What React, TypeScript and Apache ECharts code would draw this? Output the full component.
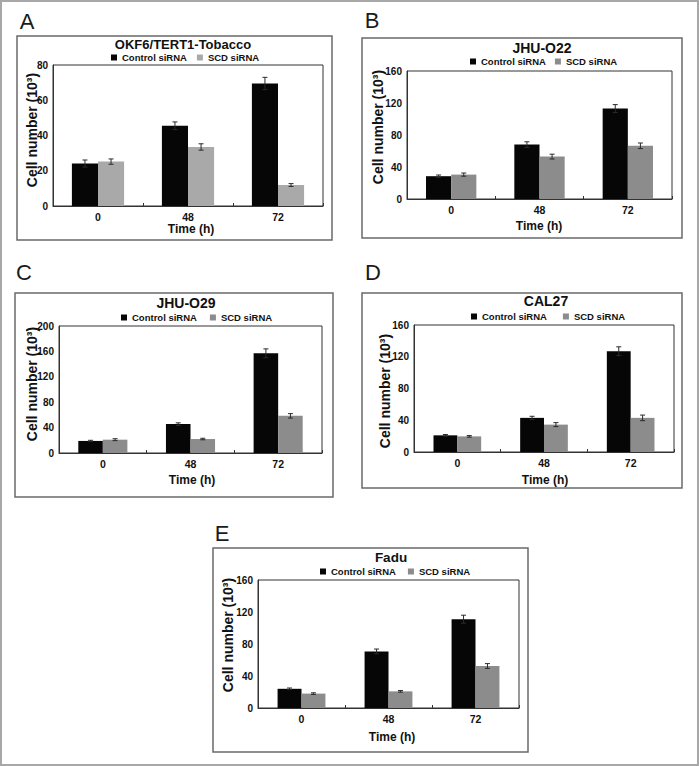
import React, { useEffect, useRef } from "react";
import * as echarts from "echarts";

// ---- data ----
const timeLabels = ["0", "48", "72"];
const seriesNames = ["Control siRNA", "SCD siRNA"];
const panelLetters = ["A", "B", "C", "D", "E"];
const panelTitles = ["OKF6/TERT1-Tobacco", "JHU-O22", "JHU-O29", "CAL27", "Fadu"];
const yMax = [80, 160, 200, 160, 160];
const yInterval = [20, 40, 40, 40, 40];

const controlA = [24.1, 45.5, 69.5];
const controlAErr = [2, 2.2, 3.5];
const scdA = [25.2, 33.5, 11.9];
const scdAErr = [1.5, 1.8, 0.8];

const controlB = [28.5, 68, 113];
const controlBErr = [1.5, 3.5, 5];
const scdB = [30.5, 53, 66.5];
const scdBErr = [2, 3, 3.5];

const controlC = [19, 45.5, 157];
const controlCErr = [1, 2, 7];
const scdC = [21, 22, 58.5];
const scdCErr = [1.5, 1.2, 3.5];

const controlD = [21, 43, 127];
const controlDErr = [1, 2, 5.5];
const scdD = [19.7, 34.5, 43];
const scdDErr = [1, 2.5, 3.5];

const controlE = [24, 70.7, 111];
const controlEErr = [1, 3, 5];
const scdE = [18, 20.8, 52.5];
const scdEErr = [1, 1, 3];

const controlValues = [controlA, controlB, controlC, controlD, controlE];
const controlErrors = [controlAErr, controlBErr, controlCErr, controlDErr, controlEErr];
const scdValues = [scdA, scdB, scdC, scdD, scdE];
const scdErrors = [scdAErr, scdBErr, scdCErr, scdDErr, scdEErr];

// ---- layout (positions / styles) ----
const layout = [
  { box: [17, 36, 315, 204], grid: [53, 65, 270, 141], title: [183, 44.5, 13], legend: [111, 57, 10], xName: [191, 229], yName: [32, 130], letter: [27, 21], gap: 0.42, scd: "#a9a9a9" },
  { box: [362, 38, 320, 200], grid: [407, 71, 265, 128], title: [542, 47.5, 14], legend: [470, 61, 9], xName: [539, 226], yName: [378, 127], letter: [372, 20], gap: 0.43, scd: "#8c8c8c" },
  { box: [15, 293, 318, 204], grid: [59, 326, 263, 127], title: [186, 302.5, 14], legend: [121, 317, 13], xName: [192, 480], yName: [32, 384], letter: [24, 272], gap: 0.44, scd: "#8c8c8c" },
  { box: [362, 293, 320, 195], grid: [414, 325, 260, 127], title: [546, 300.5, 14], legend: [471, 316, 16], xName: [545, 480], yName: [385, 391], letter: [373, 272], gap: 0.45, scd: "#8c8c8c" },
  { box: [213, 548, 315, 204], grid: [258, 580, 261, 128], title: [391, 557.5, 13.5], legend: [320, 571, 12], xName: [392, 737], yName: [228, 635], letter: [222, 533], gap: 0.45, scd: "#8c8c8c" },
];

const FONT = "'Liberation Sans', Arial, Helvetica, sans-serif";
const TEXT = "#111";

function errorBarSeries(i: number, side: number, values: number[], errs: number[], gap: number) {
  return {
    type: "custom",
    xAxisIndex: i,
    yAxisIndex: i,
    z: 5,
    silent: true,
    data: values.map((v, k) => [k, v, errs[k]]),
    renderItem: (params: any, api: any) => {
      const idx = api.value(0);
      const v = api.value(1);
      const e = api.value(2);
      const catW = api.size([1, 0])[0];
      const barW = (catW * (1 - gap)) / 2;
      const top = api.coord([idx, v + e]);
      const bot = api.coord([idx, v - e]);
      const x = top[0] + (side * barW) / 2;
      const cap = 2.5;
      const st = { stroke: "#2a2a2a", lineWidth: 1 };
      return {
        type: "group",
        children: [
          { type: "line", shape: { x1: x, y1: top[1], x2: x, y2: bot[1] }, style: st },
          { type: "line", shape: { x1: x - cap, y1: top[1], x2: x + cap, y2: top[1] }, style: st },
          { type: "line", shape: { x1: x - cap, y1: bot[1], x2: x + cap, y2: bot[1] }, style: st },
        ],
      };
    },
  };
}

function buildOption() {
  const grid: any[] = [];
  const xAxis: any[] = [];
  const yAxis: any[] = [];
  const series: any[] = [];
  const legend: any[] = [];
  const graphic: any[] = [];

  graphic.push({
    type: "rect",
    shape: { x: 1, y: 1, width: 697, height: 764 },
    style: { fill: "none", stroke: "#a8a8a8", lineWidth: 2 },
  });

  layout.forEach((L, i) => {
    grid.push({
      left: L.grid[0],
      top: L.grid[1],
      width: L.grid[2],
      height: L.grid[3],
      show: true,
      borderColor: "#333",
      borderWidth: 1,
      backgroundColor: "transparent",
    });
    xAxis.push({
      type: "category",
      gridIndex: i,
      data: timeLabels,
      axisLine: { show: true, lineStyle: { color: "#333", width: 1 } },
      axisTick: { show: true, inside: true, length: 3, lineStyle: { color: "#333" } },
      axisLabel: { fontFamily: FONT, fontSize: 10.5, fontWeight: "bold", color: TEXT, margin: 5 },
      splitLine: { show: false },
    });
    yAxis.push({
      type: "value",
      gridIndex: i,
      min: 0,
      max: yMax[i],
      interval: yInterval[i],
      axisLine: { show: true, lineStyle: { color: "#333", width: 1 } },
      axisTick: { show: false },
      axisLabel: { fontFamily: FONT, fontSize: 10, fontWeight: "bold", color: TEXT, margin: 5 },
      splitLine: { show: false },
    });
    const gapPct = Math.round(L.gap * 100) + "%";
    series.push({
      type: "bar",
      name: seriesNames[0],
      xAxisIndex: i,
      yAxisIndex: i,
      data: controlValues[i],
      itemStyle: { color: "#060606" },
      barGap: "0%",
      barCategoryGap: gapPct,
    });
    series.push({
      type: "bar",
      name: seriesNames[1],
      xAxisIndex: i,
      yAxisIndex: i,
      data: scdValues[i],
      itemStyle: { color: L.scd },
      barGap: "0%",
      barCategoryGap: gapPct,
    });
    series.push(errorBarSeries(i, -1, controlValues[i], controlErrors[i], L.gap));
    series.push(errorBarSeries(i, 1, scdValues[i], scdErrors[i], L.gap));

    legend.push({
      left: L.legend[0],
      top: L.legend[1] - 4.5,
      itemWidth: 6,
      itemHeight: 6,
      itemGap: L.legend[2],
      icon: "rect",
      selectedMode: false,
      padding: 0,
      textStyle: { fontFamily: FONT, fontSize: 9.5, fontWeight: "bold", color: TEXT, lineHeight: 10 },
      data: [
        { name: seriesNames[0], itemStyle: { color: "#060606" } },
        { name: seriesNames[1], itemStyle: { color: L.scd } },
      ],
    });

    graphic.push({
      type: "rect",
      shape: { x: L.box[0], y: L.box[1], width: L.box[2], height: L.box[3] },
      style: { fill: "none", stroke: "#6a6a6a", lineWidth: 1.5 },
    });
    graphic.push({
      type: "text",
      x: L.letter[0],
      y: L.letter[1],
      style: {
        text: panelLetters[i],
        font: `normal 22px ${FONT}`,
        fill: "#1a1a1a",
        align: "center",
        verticalAlign: "middle",
      },
    });
    graphic.push({
      type: "text",
      x: L.title[0],
      y: L.title[1],
      style: {
        text: panelTitles[i],
        font: `bold ${L.title[2]}px ${FONT}`,
        fill: TEXT,
        align: "center",
        verticalAlign: "middle",
      },
    });
    graphic.push({
      type: "text",
      x: L.xName[0],
      y: L.xName[1],
      style: {
        text: "Time (h)",
        font: `bold 12px ${FONT}`,
        fill: TEXT,
        align: "center",
        verticalAlign: "middle",
      },
    });
    graphic.push({
      type: "text",
      x: L.yName[0],
      y: L.yName[1],
      rotation: Math.PI / 2,
      style: {
        text: "Cell number (10³)",
        font: `bold 14px ${FONT}`,
        fill: TEXT,
        align: "center",
        verticalAlign: "middle",
      },
    });
  });

  return {
    animation: false,
    backgroundColor: "#ffffff",
    grid,
    xAxis,
    yAxis,
    legend,
    series,
    graphic,
  };
}

export default function App() {
  const ref = useRef<HTMLDivElement>(null);
  useEffect(() => {
    if (!ref.current) return;
    const chart = echarts.init(ref.current, null, { renderer: "svg" });
    chart.setOption(buildOption() as any);
    return () => chart.dispose();
  }, []);
  return (
    <div
      ref={ref}
      style={{ position: "fixed", left: 0, top: 0, width: 699, height: 766, background: "#fff" }}
    />
  );
}
